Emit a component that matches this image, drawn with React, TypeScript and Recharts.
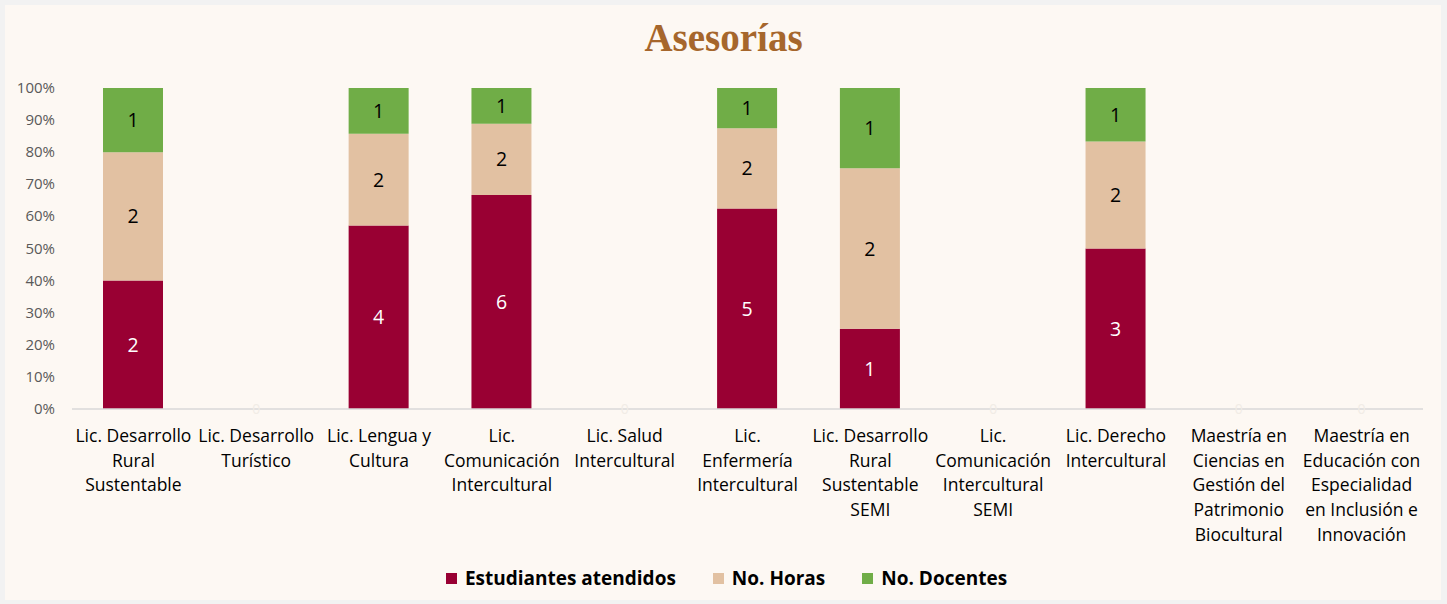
import React from "react";
import { BarChart, Bar, XAxis, YAxis, Legend, LabelList } from "recharts";

const categories = [
  "Lic. Desarrollo\nRural\nSustentable",
  "Lic. Desarrollo\nTurístico",
  "Lic. Lengua y\nCultura",
  "Lic.\nComunicación\nIntercultural",
  "Lic. Salud\nIntercultural",
  "Lic.\nEnfermería\nIntercultural",
  "Lic. Desarrollo\nRural\nSustentable\nSEMI",
  "Lic.\nComunicación\nIntercultural\nSEMI",
  "Lic. Derecho\nIntercultural",
  "Maestría en\nCiencias en\nGestión del\nPatrimonio\nBiocultural",
  "Maestría en\nEducación con\nEspecialidad\nen Inclusión e\nInnovación",
];
const estudiantes = [2, 0, 4, 6, 0, 5, 1, 0, 3, 0, 0];
const horas = [2, 0, 2, 2, 0, 2, 2, 0, 2, 0, 0];
const docentes = [1, 0, 1, 1, 0, 1, 1, 0, 1, 0, 0];
const yTicks = [0, 0.1, 0.2, 0.3, 0.4, 0.5, 0.6, 0.7, 0.8, 0.9, 1];

const series = [
  { key: "est", name: "Estudiantes atendidos", color: "#990033", label: "#FFFFFF" },
  { key: "hor", name: "No. Horas", color: "#E2C1A2", label: "#000000" },
  { key: "doc", name: "No. Docentes", color: "#70AD47", label: "#000000" },
];

const data = categories.map((c, i) => ({
  name: c,
  est: estudiantes[i],
  hor: horas[i],
  doc: docentes[i],
}));

const FONT = "'Open Sans', sans-serif";

const XTick = (props: any) => {
  const { x, y, payload, index } = props;
  const lines = String(payload.value).split("\n");
  const total = estudiantes[index] + horas[index] + docentes[index];
  return (
    <g>
      {total === 0 && (
        <text x={x} y={y + 5} textAnchor="middle" fill="#F1ECE6" fontFamily={FONT} fontSize={14}>
          {estudiantes[index]}
        </text>
      )}
      <text x={x} y={y + 33} textAnchor="middle" fill="#000" fontFamily={FONT} fontSize={17.5}>
        {lines.map((l, i) => (
          <tspan key={i} x={x} dy={i === 0 ? 0 : 24.7}>
            {l}
          </tspan>
        ))}
      </text>
    </g>
  );
};

const YTick = (props: any) => {
  const { x, y, payload } = props;
  return (
    <text x={x} y={y + 5} textAnchor="end" fill="#595959" fontFamily={FONT} fontSize={15}>
      {Math.round(payload.value * 100) + "%"}
    </text>
  );
};

const makeLabel = (color: string) => (props: any) => {
  const { x, y, width, height, value } = props;
  if (!value) return null;
  return (
    <text
      x={x + width / 2}
      y={y + height / 2 + 7}
      textAnchor="middle"
      fill={color}
      fontFamily={FONT}
      fontSize={19.5}
    >
      {value}
    </text>
  );
};

const LegendContent = () => (
  <div
    style={{
      display: "flex",
      justifyContent: "center",
      gap: 37,
      fontFamily: FONT,
      fontWeight: 700,
      fontSize: 19,
      color: "#000",
      paddingLeft: 6,
    }}
  >
    {series.map((s) => (
      <div key={s.key} style={{ display: "flex", alignItems: "center" }}>
        <div style={{ width: 11, height: 11, background: s.color, marginRight: 8 }} />
        <span>{s.name}</span>
      </div>
    ))}
  </div>
);

export default function App() {
  return (
    <div
      style={{
        position: "fixed",
        left: 0,
        top: 0,
        width: 1447,
        height: 604,
        background: "#F2F2F2",
        overflow: "hidden",
      }}
    >
      <div
        style={{
          position: "absolute",
          left: 5,
          top: 5,
          width: 1436,
          height: 595,
          background: "#FDF8F3",
        }}
      />
      <div
        style={{
          position: "absolute",
          left: 0,
          top: 15,
          width: 1447,
          textAlign: "center",
          fontFamily: "'Liberation Serif', serif",
          fontWeight: 700,
          fontSize: 39,
          color: "#A6662C",
        }}
      >
        Asesorías
      </div>
      <div style={{ position: "absolute", left: 0, top: 0 }}>
        <BarChart
          width={1447}
          height={604}
          data={data}
          stackOffset="expand"
          barSize={60}
          margin={{ top: 88, right: 24, left: 10, bottom: 20 }}
        >
          <XAxis
            dataKey="name"
            tick={<XTick />}
            tickLine={false}
            axisLine={{ stroke: "#D9D9D9", strokeWidth: 1.5 }}
            tickSize={0}
            tickMargin={0}
            height={150}
            interval={0}
          />
          <YAxis
            domain={[0, 1]}
            ticks={yTicks}
            tick={<YTick />}
            axisLine={false}
            tickLine={false}
            tickSize={0}
            tickMargin={17}
            width={62}
          />
          <Legend
            verticalAlign="bottom"
            content={<LegendContent />}
            wrapperStyle={{ position: "absolute", left: 0, top: 565, width: 1447, height: 25 }}
          />
          {series.map((s) => (
            <Bar
              key={s.key}
              dataKey={s.key}
              name={s.name}
              stackId="a"
              fill={s.color}
              isAnimationActive={false}
            >
              <LabelList dataKey={s.key} content={makeLabel(s.label) as any} />
            </Bar>
          ))}
        </BarChart>
      </div>
    </div>
  );
}
